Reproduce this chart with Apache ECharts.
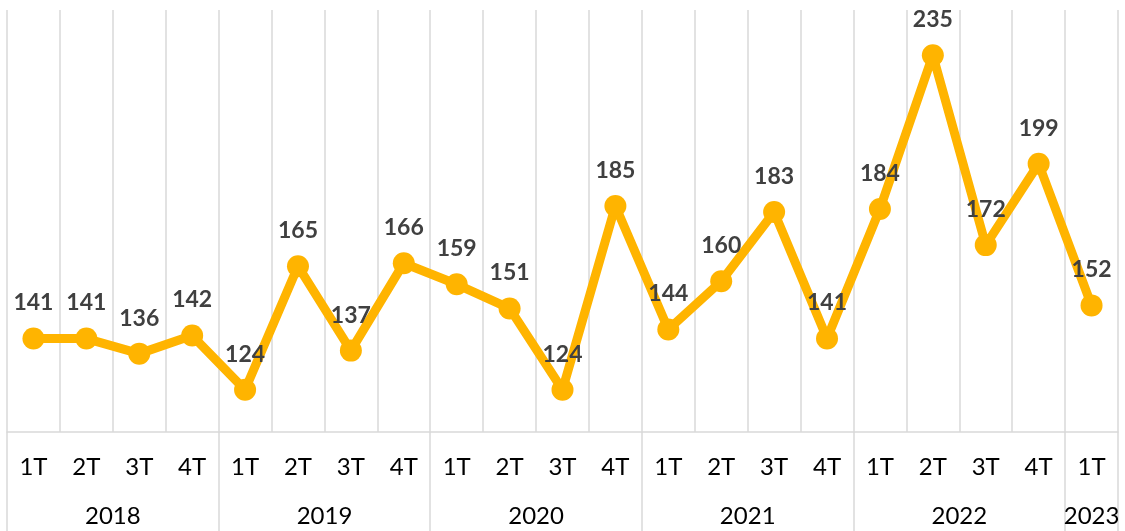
<html>
<head>
    <meta http-equiv="Content-Type" content="text/html; charset=utf-8">
    <script type="text/javascript" src="https://cdn.jsdelivr.net/npm/echarts@6/dist/echarts.min.js"></script>
    <style>
        html, body { margin: 0; padding: 0; background: #fff; }
        #main { width: 1125px; height: 531px; }
    </style>
</head>
<body>
<div id="main"></div>
<script type="text/javascript">
    var quarters = ['1T','2T','3T','4T','1T','2T','3T','4T','1T','2T','3T','4T','1T','2T','3T','4T','1T','2T','3T','4T','1T'];
    var values = [141, 141, 136, 142, 124, 165, 137, 166, 159, 151, 124, 185, 144, 160, 183, 141, 184, 235, 172, 199, 152];
    var years = ['2018', '2019', '2020', '2021', '2022', '2023'];
    var yearSpan = [4, 4, 4, 4, 4, 1];

    // year axis: one slot per quarter, label put on the middle of each year
    var yearSlots = [];
    var yearStarts = {};
    var pos = 0;
    for (var i = 0; i < years.length; i++) {
        yearStarts[pos] = true;
        for (var k = 0; k < yearSpan[i]; k++) {
            var mid = Math.floor((yearSpan[i] - 1) / 2);
            if (k == mid) {
                yearSlots.push((yearSpan[i] % 2 == 0 ? 'e|' : 'o|') + years[i]);
            } else {
                yearSlots.push('');
            }
        }
        pos += yearSpan[i];
    }

    var gridColor = '#d9d9d9';
    var myChart = echarts.init(document.getElementById('main'));
    var option = {
        animation: false,
        grid: { left: 7, right: 7, top: 10, bottom: 99, containLabel: false },
        xAxis: [
            {
                type: 'category',
                data: quarters,
                boundaryGap: true,
                axisLine: { show: true, lineStyle: { color: gridColor, width: 1.5 } },
                axisTick: { show: false },
                splitLine: { show: true, interval: 0, lineStyle: { color: gridColor, width: 1.5 } },
                axisLabel: {
                    interval: 0,
                    margin: 23,
                    color: '#000',
                    fontFamily: 'Lato',
                    fontSize: 24
                }
            },
            {
                type: 'category',
                data: yearSlots,
                position: 'bottom',
                boundaryGap: true,
                axisLine: { show: false },
                splitLine: { show: false },
                axisTick: {
                    show: true,
                    length: 99,
                    interval: function (index) { return !!yearStarts[index]; },
                    lineStyle: { color: gridColor, width: 1.5 }
                },
                axisLabel: {
                    interval: 0,
                    margin: 72,
                    color: '#000',
                    fontFamily: 'Lato',
                    fontSize: 24,
                    formatter: function (v) {
                        if (!v) return '';
                        var p = v.split('|');
                        return '{' + p[0] + '|' + p[1] + '}';
                    },
                    rich: {
                        e: { fontFamily: 'Lato', fontSize: 24, color: '#000', padding: [0, 0, 0, 53] },
                        o: { fontFamily: 'Lato', fontSize: 24, color: '#000' }
                    }
                }
            }
        ],
        yAxis: {
            type: 'value',
            min: 110,
            max: 250,
            show: false,
            splitLine: { show: false }
        },
        series: [
            {
                type: 'line',
                data: values,
                symbol: 'circle',
                symbolSize: 22,
                lineStyle: { color: '#FFB400', width: 9 },
                itemStyle: { color: '#FFB400' },
                label: {
                    show: true,
                    position: 'top',
                    distance: 13,
                    color: '#404040',
                    fontFamily: 'Lato',
                    fontWeight: 'bold',
                    fontSize: 23
                }
            }
        ]
    };
    myChart.setOption(option);
</script>
</body>
</html>
